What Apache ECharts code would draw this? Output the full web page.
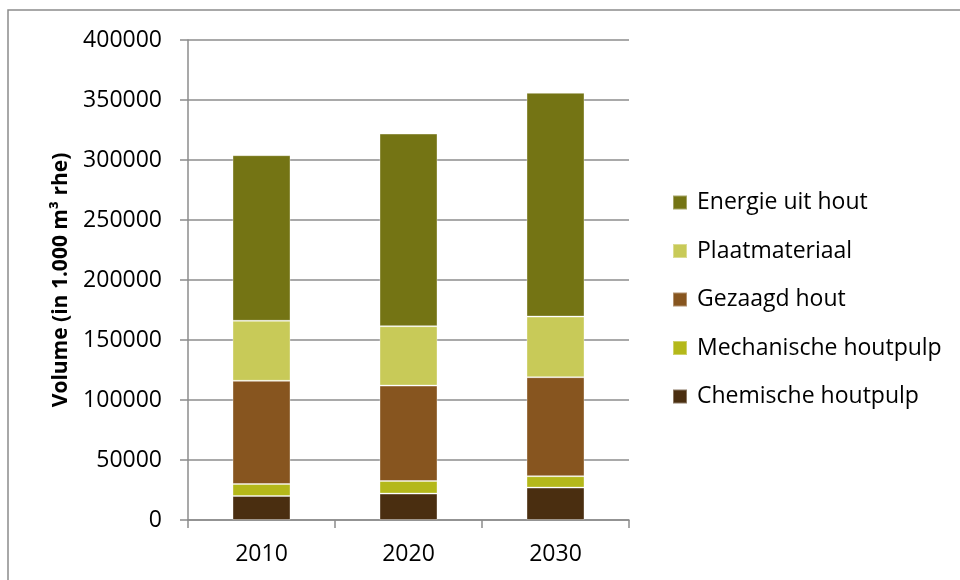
<!DOCTYPE html>
<html>
<head>
<meta charset="utf-8">
<script src="https://cdn.jsdelivr.net/npm/echarts@6/dist/echarts.min.js"></script>
<style>
  html, body { margin: 0; padding: 0; background: #fff; }
  #chart { width: 960px; height: 580px; }
</style>
</head>
<body>
<div id="chart"></div>
<script>
// Wood volume by use, 1.000 m³ rhe
var years = ['2010', '2020', '2030'];
var chemischeHoutpulp = [20000, 22000, 27000];
var mechanischeHoutpulp = [10000, 10500, 9500];
var gezaagdHout = [86000, 79500, 82500];
var plaatmateriaal = [50000, 49500, 50500];
var energieUitHout = [138000, 160500, 186500];
var yTicks = [0, 50000, 100000, 150000, 200000, 250000, 300000, 350000, 400000];

var FONT = '"Open Sans", sans-serif';

var seriesDefs = [
  { name: 'Chemische houtpulp', data: chemischeHoutpulp, color: '#4a2e10' },
  { name: 'Mechanische houtpulp', data: mechanischeHoutpulp, color: '#b4b81a' },
  { name: 'Gezaagd hout', data: gezaagdHout, color: '#87551f' },
  { name: 'Plaatmateriaal', data: plaatmateriaal, color: '#c8ca58' },
  { name: 'Energie uit hout', data: energieUitHout, color: '#747414' }
];

var chart = echarts.init(document.getElementById('chart'), null, { renderer: 'canvas' });

chart.setOption({
  animation: false,
  backgroundColor: '#ffffff',
  graphic: [
    {
      type: 'rect',
      shape: { x: 8, y: 10, width: 1000, height: 700 },
      style: { fill: 'none', stroke: '#8c8c8c', lineWidth: 1.5 },
      silent: true,
      z: -10
    }
  ],
  grid: { left: 188, right: 331, top: 40, bottom: 60, containLabel: false },
  legend: {
    orient: 'vertical',
    left: 672,
    top: 191,
    padding: 0,
    itemWidth: 14,
    itemHeight: 14,
    itemGap: 25.5,
    icon: 'rect',
    textStyle: { fontFamily: FONT, fontSize: 23, lineHeight: 23, color: '#000', padding: [0, 0, 0, 5] },
    data: ['Energie uit hout', 'Plaatmateriaal', 'Gezaagd hout', 'Mechanische houtpulp', 'Chemische houtpulp']
  },
  xAxis: {
    type: 'category',
    data: years,
    axisLine: { lineStyle: { color: '#8c8c8c', width: 1.5 } },
    axisTick: { show: true, length: 8, alignWithLabel: false, lineStyle: { color: '#8c8c8c', width: 1.5 } },
    axisLabel: { fontFamily: FONT, fontSize: 23, color: '#000', margin: 23 },
    splitLine: { show: false }
  },
  yAxis: {
    type: 'value',
    min: yTicks[0],
    max: yTicks[yTicks.length - 1],
    interval: yTicks[1] - yTicks[0],
    name: 'Volume (in 1.000 m³ rhe)',
    nameLocation: 'middle',
    nameGap: 116,
    nameRotate: 90,
    nameTextStyle: { fontFamily: FONT, fontSize: 21, fontWeight: 'bold', color: '#000' },
    axisLine: { show: true, lineStyle: { color: '#8c8c8c', width: 1.5 } },
    axisTick: { show: true, length: 8, lineStyle: { color: '#8c8c8c', width: 1.5 } },
    axisLabel: {
      fontFamily: FONT, fontSize: 23, color: '#000', margin: 26,
      formatter: function (v) { return String(v); }
    },
    splitLine: { show: true, lineStyle: { color: '#8c8c8c', width: 1.5 } }
  },
  series: seriesDefs.map(function (s) {
    return {
      name: s.name,
      type: 'bar',
      stack: 'total',
      data: s.data,
      barWidth: 58,
      itemStyle: { color: s.color, borderColor: 'rgba(255,255,255,0.35)', borderWidth: 1 }
    };
  })
});
</script>
</body>
</html>
